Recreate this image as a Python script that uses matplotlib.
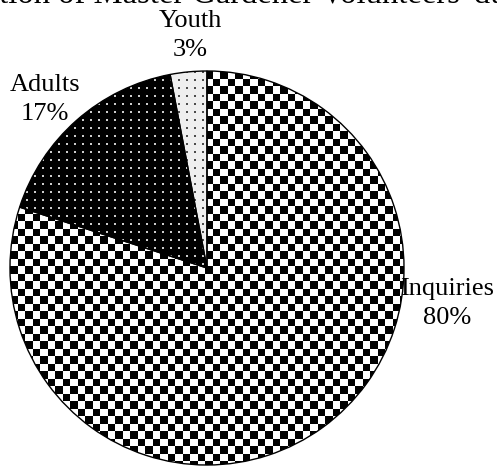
import numpy as np
import matplotlib
matplotlib.use('Agg')
import matplotlib.pyplot as plt

plt.rcParams['font.family'] = ['Liberation Serif', 'DejaVu Serif']

title = "Distribution of Master Gardener Volunteers' duties"
categories = ['Inquiries', 'Adults', 'Youth']
shares = [80, 17, 3]
# label centres in data units (pie radius = 1)
label_pos = [(1.22, -0.18), (-0.822, 0.855), (-0.086, 1.18)]

W, H = 497, 467
fig = plt.figure(figsize=(W / 100, H / 100), dpi=100)
R = 197  # pie radius in px
cx, cy = 207, 467 - 268
ax = fig.add_axes([(cx - R) / W, (cy - R) / H, 2 * R / W, 2 * R / H])

wedges, _ = ax.pie(shares, startangle=90, counterclock=False, radius=1,
                   wedgeprops=dict(facecolor='none', edgecolor='black', linewidth=1.0))
ax.set_xlim(-1, 1)
ax.set_ylim(-1, 1)
ax.axis('off')

# textures, one pixel per array cell
n = 2 * R
yy, xx = np.mgrid[0:n, 0:n]

def checker():
    c = ((np.floor(xx / 7.5) + np.floor(yy / 7.5)) % 2).astype(float)
    return np.dstack([c, c, c])

def dots(bg, fg, period=8, size=2):
    img = np.full((n, n), bg)
    m = ((xx % period) < size) & ((yy % period) < size)
    img[m] = fg
    return np.dstack([img, img, img])

textures = [checker(), dots(0.0, 0.8), dots(0.94, 0.3)]

for w, tex in zip(wedges, textures):
    im = ax.imshow(tex, extent=(-1, 1, -1, 1), interpolation='nearest', zorder=0)
    im.set_clip_path(w)

for cat, v, (x, y) in zip(categories, shares, label_pos):
    ax.text(x, y, "%s\n%d%%" % (cat, v), ha='center', va='center',
            fontsize=19, linespacing=1.45)

# title sits mostly above the canvas, as in the source image
fig.text(222 / W, 1 - 2.5 / H, title, ha='center', va='baseline', fontsize=23.5)

fig.savefig('out.png', dpi=100)
